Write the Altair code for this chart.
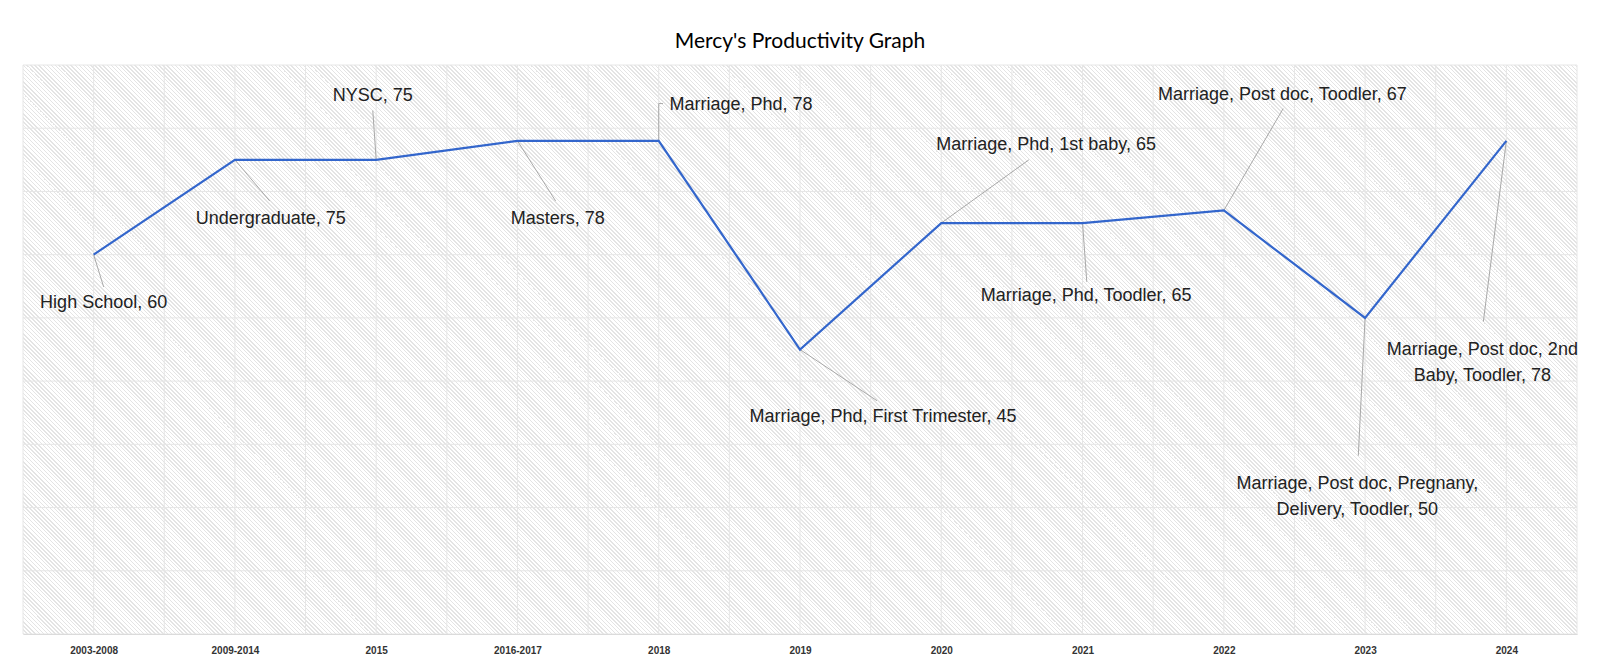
import math
import altair as alt
import pandas as pd

# ---------------- data ----------------
categories = ["2003-2008", "2009-2014", "2015", "2016-2017", "2018", "2019",
              "2020", "2021", "2022", "2023", "2024"]
values = [60, 75, 75, 78, 78, 45, 65, 65, 67, 50, 78]
labels = [
    "High School, 60",
    "Undergraduate, 75",
    "NYSC, 75",
    "Masters, 78",
    "Marriage, Phd, 78",
    "Marriage, Phd, First Trimester, 45",
    "Marriage, Phd, 1st baby, 65",
    "Marriage, Phd, Toodler, 65",
    "Marriage, Post doc, Toodler, 67",
    "Marriage, Post doc, Pregnany,\nDelivery, Toodler, 50",
    "Marriage, Post doc, 2nd\nBaby, Toodler, 78",
]

# ---------------- layout (annotation placement, in data units) ----------------
label_dx = [0.071, 0.254, -0.024, 0.286, 0.582, 0.588, 0.742, 0.025, 0.414, -0.055, -0.170]
label_dy = [-7.6, -9.3, 10.1, -12.3, 5.7, -10.7, 12.4, -11.5, 18.3, -26.3, -33.1]
lead_dx = [0.071, 0.246, -0.024, 0.27, 0.0, 0.545, 0.62, 0.03, 0.42, -0.048, -0.163]
lead_dy = [-5.1, -6.5, 7.8, -9.5, 5.9, -8.1, 10.0, -9.3, 16.1, -21.8, -28.6]
elbow_len = 0.03

W, H = 1554, 569
Y_MAX = 90
N = len(categories)

idx = list(range(N))
df = pd.DataFrame({"i": idx, "cat": categories, "v": values})
lab_df = pd.DataFrame({
    "tx": [i + d for i, d in zip(idx, label_dx)],
    "ty": [v + d for v, d in zip(values, label_dy)],
    "label": labels,
})
seg_rows = []
for i, v, dx, dy in zip(idx, values, lead_dx, lead_dy):
    seg_rows.append({"x": i, "y": v, "x2": i + dx, "y2": v + dy})
seg_rows.append({"x": 4, "y": values[4] + lead_dy[4], "x2": 4 + elbow_len,
                 "y2": values[4] + lead_dy[4]})
seg_df = pd.DataFrame(seg_rows)

grid_x = pd.DataFrame({"x": [k / 2 - 0.5 for k in range(2 * N + 1)]})
grid_y = pd.DataFrame({"y": list(range(0, Y_MAX + 1, 10))})
bg_df = pd.DataFrame({"x": [-0.5], "x2": [N - 0.5], "y": [0], "y2": [Y_MAX]})

# ---------------- hatch background via striped linear gradient ----------------
t = (W + H) / (W * W + H * H)
gx2, gy2 = t * W, 1 - t * H
L = (W + H) / math.sqrt(2)
period = 4 / math.sqrt(2)
gray_w = period * 0.4
STRIPE = "#e4e4e4"
stops = []
k = 0
while k * period < L:
    a = k * period / L
    b = min(1.0, (k * period + gray_w) / L)
    c = min(1.0, (k + 1) * period / L)
    stops += [alt.GradientStop(offset=round(a, 6), color=STRIPE),
              alt.GradientStop(offset=round(b, 6), color=STRIPE),
              alt.GradientStop(offset=round(b, 6), color="#ffffff"),
              alt.GradientStop(offset=round(c, 6), color="#ffffff")]
    k += 1
hatch = alt.Gradient(gradient="linear", stops=stops, x1=0, y1=1,
                     x2=round(gx2, 6), y2=round(gy2, 6))

xscale = alt.Scale(domain=[-0.5, N - 0.5], nice=False, zero=False)
yscale = alt.Scale(domain=[0, Y_MAX], nice=False, zero=False)
label_expr = "[" + ",".join("'" + c + "'" for c in categories) + "][datum.value]"
x_axis = alt.Axis(values=idx, labelExpr=label_expr, grid=False, ticks=False,
                  domain=True, domainColor="#d0d0d0", labelFont="Liberation Sans",
                  labelFontSize=10, labelFontWeight="bold", labelColor="#333333",
                  labelPadding=11, title=None)


def X(f):
    return alt.X(f, type="quantitative", scale=xscale, axis=x_axis)


def Y(f):
    return alt.Y(f, type="quantitative", scale=yscale, axis=None)


bg = alt.Chart(bg_df).mark_rect(fill=hatch, strokeWidth=0).encode(
    x=X("x"), x2="x2", y=Y("y"), y2="y2"
)
vgrid = alt.Chart(grid_x).mark_rule(color="#e6e6e6", strokeWidth=1).encode(x=X("x"))
hgrid = alt.Chart(grid_y).mark_rule(color="#e6e6e6", strokeWidth=1).encode(y=Y("y"))
leaders = alt.Chart(seg_df).mark_rule(color="#a8a8a8", strokeWidth=1).encode(
    x=X("x"), y=Y("y"), x2="x2", y2="y2"
)
line = alt.Chart(df).mark_line(color="#3366cc", strokeWidth=2.2).encode(
    x=X("i"), y=Y("v")
)
texts = alt.Chart(lab_df).mark_text(
    font="Liberation Sans", fontSize=18, color="#222222", align="center",
    baseline="middle", lineBreak="\n", lineHeight=26,
).encode(x=X("tx"), y=Y("ty"), text="label:N")

chart = alt.layer(bg, vgrid, hgrid, leaders, line, texts).properties(
    width=W, height=H,
    title=alt.TitleParams("Mercy's Productivity Graph", font="Lato", fontSize=21,
                          fontWeight="normal", color="#000000", anchor="middle", offset=13),
    autosize=alt.AutoSizeParams(type="none"),
    padding={"left": 15, "top": 57, "right": 15, "bottom": 30},
).configure_view(stroke=None)

chart.save("out.html", embed_options={"renderer": "svg", "actions": False})
